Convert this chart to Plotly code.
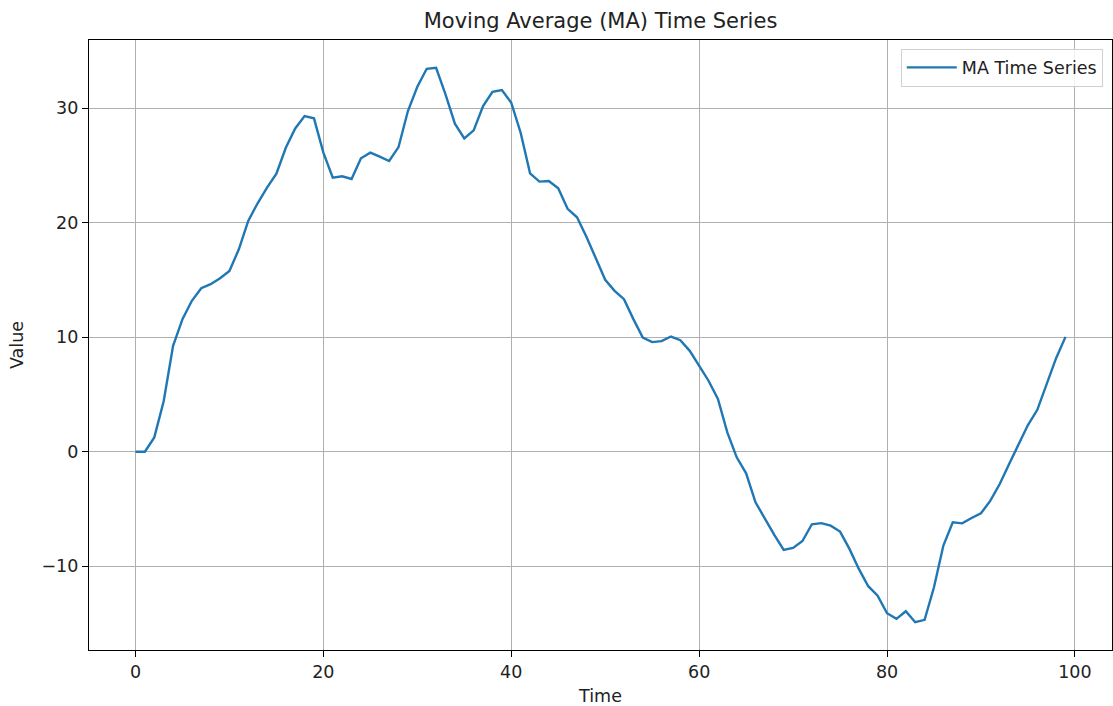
import plotly.graph_objects as go

# Moving-average series sampled at integer time steps
time = list(range(100))
ma_values = [
    0.0, 0.0, 1.25, 4.4, 9.25, 11.58, 13.18, 14.28, 14.63, 15.15,
    15.79, 17.68, 20.16, 21.7, 23.06, 24.29, 26.55, 28.24, 29.32, 29.12,
    26.12, 23.94, 24.06, 23.82, 25.63, 26.12, 25.77, 25.39, 26.61, 29.76,
    31.88, 33.45, 33.54, 31.21, 28.65, 27.37, 28.07, 30.19, 31.44, 31.59,
    30.48, 27.86, 24.32, 23.59, 23.65, 23.01, 21.22, 20.48, 18.78, 16.98,
    15.02, 14.05, 13.32, 11.58, 9.97, 9.57, 9.66, 10.06, 9.74, 8.81,
    7.5, 6.2, 4.6, 1.69, -0.49, -1.89, -4.42, -5.87, -7.26, -8.58,
    -8.41, -7.8, -6.34, -6.24, -6.46, -6.98, -8.49, -10.24, -11.75, -12.57,
    -14.11, -14.6, -13.94, -14.9, -14.69, -11.84, -8.2, -6.17, -6.26, -5.79,
    -5.38, -4.28, -2.82, -1.08, 0.67, 2.33, 3.66, 5.9, 8.17, 10.03,
]

x_ticks = [0, 20, 40, 60, 80, 100]
y_ticks = [-10, 0, 10, 20, 30]

font_family = "DejaVu Sans"
text_size = 17.5
title_size = 21

fig = go.Figure()
fig.add_trace(
    go.Scatter(
        x=time,
        y=ma_values,
        mode="lines",
        name="MA Time Series",
        line=dict(color="#1f77b4", width=2.4),
    )
)

# 5% padding on both axes, like a default autoscaled plot
x_pad = 0.05 * (max(time) - min(time))
y_pad = 0.05 * (max(ma_values) - min(ma_values))

axis_common = dict(
    showline=True,
    linecolor="black",
    linewidth=1.2,
    mirror=True,
    ticks="outside",
    ticklen=6,
    tickwidth=1.2,
    tickcolor="black",
    showgrid=True,
    gridcolor="#b0b0b0",
    gridwidth=1.1,
    zeroline=False,
    tickfont=dict(family=font_family, size=text_size, color="#222222"),
)

fig.update_xaxes(
    range=[min(time) - x_pad, max(time) + x_pad],
    tickvals=x_ticks,
    title=dict(text="Time", font=dict(family=font_family, size=text_size, color="#222222"), standoff=10),
    **axis_common,
)
fig.update_yaxes(
    range=[min(ma_values) - y_pad, max(ma_values) + y_pad],
    tickvals=y_ticks,
    ticktext=["\u221210", "0", "10", "20", "30"],
    title=dict(text="Value", font=dict(family=font_family, size=text_size, color="#222222"), standoff=13),
    **axis_common,
)

fig.update_layout(
    width=1113,
    height=706,
    margin=dict(l=89, r=1, t=40, b=56),
    paper_bgcolor="white",
    plot_bgcolor="white",
    font=dict(family=font_family, color="#222222"),
    title=dict(
        text="Moving Average (MA) Time Series",
        x=0.5,
        xref="paper",
        xanchor="center",
        y=1 - 21 / 706,
        yref="container",
        yanchor="middle",
        font=dict(family=font_family, size=title_size, color="#222222"),
    ),
    showlegend=True,
    legend=dict(
        x=0.991,
        y=0.986,
        xanchor="right",
        yanchor="top",
        itemwidth=50,
        bgcolor="rgba(255,255,255,0.8)",
        bordercolor="#d0d0d0",
        borderwidth=1,
        font=dict(family=font_family, size=text_size, color="#222222"),
    ),
)

fig.write_html("out.html")
